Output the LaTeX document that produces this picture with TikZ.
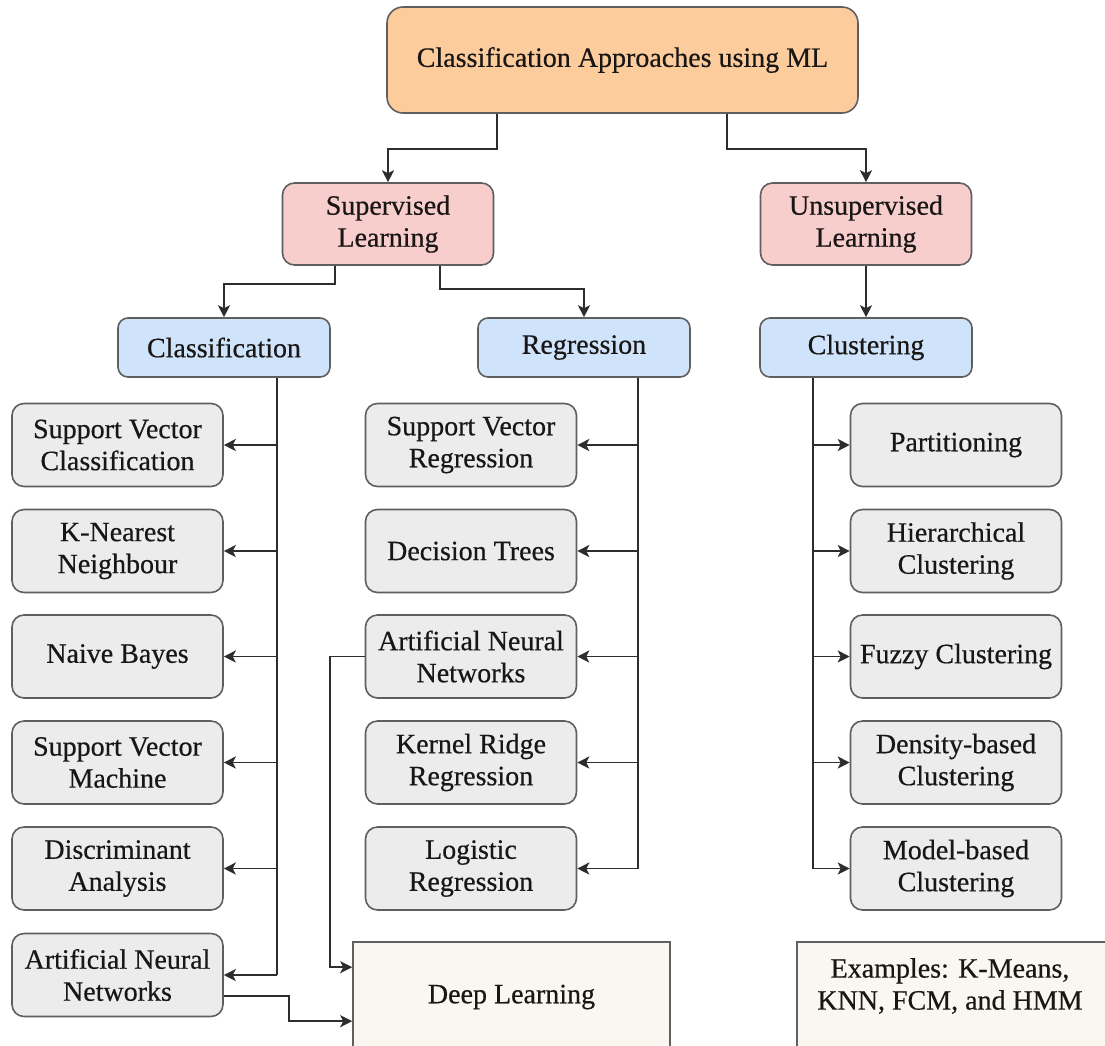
\documentclass[tikz,border=0pt]{standalone}
\usepackage{fontspec}
\setmainfont{Liberation Serif}[FakeBold=0.5]
\usetikzlibrary{arrows.meta,calc}
\definecolor{peach}{RGB}{252,204,156}
\definecolor{pinkbox}{RGB}{248,206,204}
\definecolor{bluebox}{RGB}{207,228,250}
\definecolor{graybox}{RGB}{236,236,236}
\definecolor{creambox}{RGB}{249,247,239}
\definecolor{bordc}{RGB}{95,95,95}
\definecolor{linec}{RGB}{45,45,45}
\definecolor{txtc}{RGB}{25,22,22}
\begin{document}
\begin{tikzpicture}[x=1pt,y=-1pt,
  base/.style={draw=bordc, line width=1.6pt, align=center, text=txtc,
    font=\fontsize{28}{32}\selectfont, inner sep=0pt},
  topbox/.style={base, fill=peach, rounded corners=16pt, minimum width=471pt, minimum height=106pt},
  pinkb/.style={base, fill=pinkbox, rounded corners=12pt, minimum width=211pt, minimum height=82pt},
  blueb/.style={base, fill=bluebox, rounded corners=10pt, minimum width=212pt, minimum height=59pt},
  grayb/.style={base, fill=graybox, rounded corners=12pt, minimum width=211pt, minimum height=83pt},
  creamb/.style={base, fill=creambox, rounded corners=0pt},
  conn/.style={draw=linec, line width=1.8pt},
  arr/.style={conn, -{Stealth[length=12pt,width=12pt,inset=3pt]}},
]
\fill[white] (0,0) rectangle (1105,1045);
\clip (0,0) rectangle (1105,1045);

% top
\node[topbox] (top) at (622.5,60) {Classification Approaches using ML};
\node[pinkb] (sup) at (388,224) {Supervised\\Learning};
\node[pinkb] (uns) at (866,224) {Unsupervised\\Learning};
\node[blueb] (cls) at (224,347.5) {Classification};
\node[blueb] (reg) at (584,347.5) {Regression};
\node[blueb] (clu) at (866,347.5) {Clustering};

% left column
\node[grayb] (L1) at (117.5,445) {Support Vector\\Classification};
\node[grayb] (L2) at (117.5,551) {K-Nearest\\Neighbour};
\node[grayb] (L3) at (117.5,656.5) {Naive Bayes};
\node[grayb] (L4) at (117.5,762.5) {Support Vector\\Machine};
\node[grayb] (L5) at (117.5,868.5) {Discriminant\\Analysis};
\node[grayb] (L6) at (117.5,975) {Artificial Neural\\Networks};

% middle column
\node[grayb] (M1) at (471,445) {Support Vector\\Regression};
\node[grayb] (M2) at (471,551) {Decision Trees};
\node[grayb] (M3) at (471,656.5) {Artificial Neural\\Networks};
\node[grayb] (M4) at (471,762.5) {Kernel Ridge\\Regression};
\node[grayb] (M5) at (471,868.5) {Logistic\\Regression};

% right column
\node[grayb] (R1) at (956,445) {Partitioning};
\node[grayb] (R2) at (956,551) {Hierarchical\\Clustering};
\node[grayb] (R3) at (956,656.5) {Fuzzy Clustering};
\node[grayb] (R4) at (956,762.5) {Density-based\\Clustering};
\node[grayb] (R5) at (956,868.5) {Model-based\\Clustering};

% bottom boxes
\node[creamb, minimum width=317pt, minimum height=110pt] (DL) at (511.5,997) {Deep Learning};
\node[creamb, minimum width=330pt, minimum height=120pt,
  label={[base, draw=none, align=center, xshift=-12pt, yshift=16pt]center:Examples: K-Means,\\KNN, FCM, and HMM}] (EX) at (962,1002) {};

% trunks
\coordinate (tL) at (277,0);
\coordinate (tM) at (638,0);
\coordinate (tR) at (813,0);

% top connectors
\draw[arr] ([xshift=-125.5pt]top.south) -- ++(0,35) -| (sup.north);
\draw[arr] ([xshift=104.5pt]top.south) -- ++(0,35) -| (uns.north);
\draw[arr] ([xshift=-53pt]sup.south) -- ++(0,18) -| (cls.north);
\draw[arr] ([xshift=52pt]sup.south) -- ++(0,23) -| (reg.north);
\draw[arr] (uns.south) -- (clu.north);

% classification trunk
\draw[conn] (cls.south -| tL) -- (tL |- L6.east);
\foreach \n in {L1,L2,L3,L4,L5,L6} \draw[arr] (tL |- \n.east) -- (\n.east);
% regression trunk
\draw[conn] (reg.south -| tM) -- (tM |- M5.east);
\foreach \n in {M1,M2,M3,M4,M5} \draw[arr] (tM |- \n.east) -- (\n.east);
% clustering trunk
\draw[conn] (clu.south -| tR) -- (tR |- R5.west);
\foreach \n in {R1,R2,R3,R4,R5} \draw[arr] (tR |- \n.west) -- (\n.west);

% to deep learning
\draw[arr] (M3.west) -- ++(-35,0) |- ([yshift=-26pt]DL.north west);
\draw[arr] ([yshift=-21pt]L6.east) -- ++(65,0) |- ([yshift=-80pt]DL.north west);
\end{tikzpicture}
\end{document}
